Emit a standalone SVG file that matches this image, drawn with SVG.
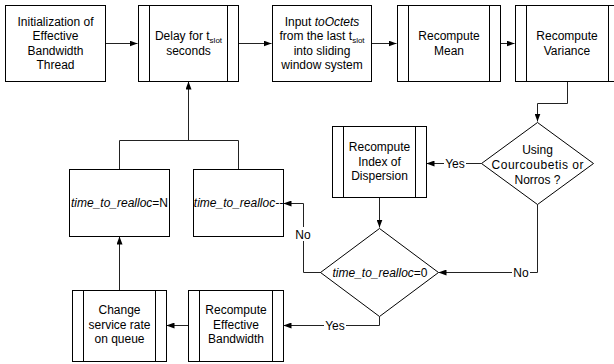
<svg xmlns="http://www.w3.org/2000/svg" width="614" height="364" viewBox="0 0 614 364">
<style>
.b{fill:#fff;stroke:#000;stroke-width:1}
.in{stroke:#000;stroke-width:1}
.c{fill:none;stroke:#222;stroke-width:1}
text{font-family:"Liberation Sans",Arial,sans-serif;font-size:12px;fill:#000;text-anchor:middle}
.i{font-style:italic}
.s{font-size:8px}
.lb{fill:#fff;stroke:none}
</style>
<defs>
<marker id="a" viewBox="0 0 8 6" refX="8" refY="3" markerWidth="8" markerHeight="6" markerUnits="userSpaceOnUse" orient="auto">
<path d="M0,0 L8,3 L0,6 z" fill="#000"/>
</marker>
</defs>
<rect width="614" height="364" fill="#fff"/>
<g id="connectors">
<path class="c" d="M105.5,43.5 H137.5" marker-end="url(#a)"/>
<path class="c" d="M238.5,43.5 H271.5" marker-end="url(#a)"/>
<path class="c" d="M371.5,43.5 H396.5" marker-end="url(#a)"/>
<path class="c" d="M500.5,43.5 H514.5" marker-end="url(#a)"/>
<path class="c" d="M567.5,81.5 V103.5 H537.5 V121.5" marker-end="url(#a)"/>
<path class="c" d="M481.5,163.5 H426.5" marker-end="url(#a)"/>
<path class="c" d="M379.5,197.5 V227.5" marker-end="url(#a)"/>
<path class="c" d="M537.5,204.5 V272.5 H438.5" marker-end="url(#a)"/>
<path class="c" d="M321.5,272.5 H303.5 V203.5 H283.5" marker-end="url(#a)"/>
<path class="c" d="M379.5,316.5 V325.5 H283.5" marker-end="url(#a)"/>
<path class="c" d="M188.5,325.5 H166.5" marker-end="url(#a)"/>
<path class="c" d="M119.5,290.5 V236.5" marker-end="url(#a)"/>
<path class="c" d="M119.5,169.5 V140.5 H238.5 V169.5"/>
<path class="c" d="M188.5,140.5 V81.5" marker-end="url(#a)"/>
<rect class="lb" x="444" y="156" width="22" height="14"/>
<text x="455" y="167.5">Yes</text>
<rect class="lb" x="512" y="265" width="18" height="14"/>
<text x="521" y="276.5">No</text>
<rect class="lb" x="294" y="227" width="18" height="14"/>
<text x="303" y="238.5">No</text>
<rect class="lb" x="324" y="318" width="22" height="14"/>
<text x="335" y="329.5">Yes</text>
</g>
<g id="n1">
<rect class="b" x="5.5" y="5.5" width="100" height="76"/>
<text x="55.5" y="25.7">Initialization of</text>
<text x="55.5" y="40.1">Effective</text>
<text x="55.5" y="54.5">Bandwidth</text>
<text x="55.5" y="68.9">Thread</text>
</g>
<g id="n2">
<rect class="b" x="138.5" y="5.5" width="100" height="76"/>
<path class="in" d="M149.5,5.5 V81.5 M227.5,5.5 V81.5"/>
<text x="188.5" y="40.3">Delay for t<tspan class="s" dy="3">slot</tspan></text>
<text x="188.5" y="54.7">seconds</text>
</g>
<g id="n3">
<rect class="b" x="272.5" y="5.5" width="99" height="76"/>
<text x="322" y="25.7">Input <tspan class="i">toOctets</tspan></text>
<text x="322" y="40.1">from the last t<tspan class="s" dy="3">slot</tspan></text>
<text x="322" y="54.5">into sliding</text>
<text x="322" y="68.9">window system</text>
</g>
<g id="n4">
<rect class="b" x="397.5" y="5.5" width="103" height="76"/>
<path class="in" d="M408.5,5.5 V81.5 M489.5,5.5 V81.5"/>
<text x="449" y="40.3">Recompute</text>
<text x="449" y="54.7">Mean</text>
</g>
<g id="n5">
<rect class="b" x="515.5" y="5.5" width="104" height="76"/>
<path class="in" d="M526.5,5.5 V81.5 M608.5,5.5 V81.5"/>
<text x="567" y="40.3">Recompute</text>
<text x="567" y="54.7">Variance</text>
</g>
<g id="n6">
<path class="b" d="M537.5,122.5 L593.5,163.5 L537.5,204.5 L481.5,163.5 Z"/>
<text x="537.5" y="153.5">Using</text>
<text x="537.5" y="168.5" textLength="92" lengthAdjust="spacing">Courcoubetis or</text>
<text x="537.5" y="183.5">Norros ?</text>
</g>
<g id="n7">
<rect class="b" x="332.5" y="126.5" width="94" height="71"/>
<path class="in" d="M343.5,126.5 V197.5 M415.5,126.5 V197.5"/>
<text x="379.5" y="151.3">Recompute</text>
<text x="379.5" y="165.8">Index of</text>
<text x="379.5" y="180.3">Dispersion</text>
</g>
<g id="n8">
<path class="b" d="M379.5,228.5 L438.5,272.5 L379.5,316.5 L320.5,272.5 Z"/>
<text x="380" y="276.5"><tspan class="i">time_to_realloc</tspan>=0</text>
</g>
<g id="n9">
<rect class="b" x="193.5" y="169.5" width="90" height="67"/>
<text class="i" x="238.5" y="206.8">time_to_realloc--</text>
</g>
<g id="n10">
<rect class="b" x="69.5" y="169.5" width="100" height="67"/>
<text x="119.5" y="206.8"><tspan class="i">time_to_realloc</tspan>=N</text>
</g>
<g id="n11">
<rect class="b" x="188.5" y="290.5" width="95" height="71"/>
<path class="in" d="M199.5,290.5 V361.5 M272.5,290.5 V361.5"/>
<text x="236" y="314.3">Recompute</text>
<text x="236" y="328.8">Effective</text>
<text x="236" y="343.3">Bandwidth</text>
</g>
<g id="n12">
<rect class="b" x="72.5" y="290.5" width="94" height="71"/>
<path class="in" d="M83.5,290.5 V361.5 M155.5,290.5 V361.5"/>
<text x="119.5" y="314.3">Change</text>
<text x="119.5" y="328.8">service rate</text>
<text x="119.5" y="343.3">on queue</text>
</g>
</svg>
